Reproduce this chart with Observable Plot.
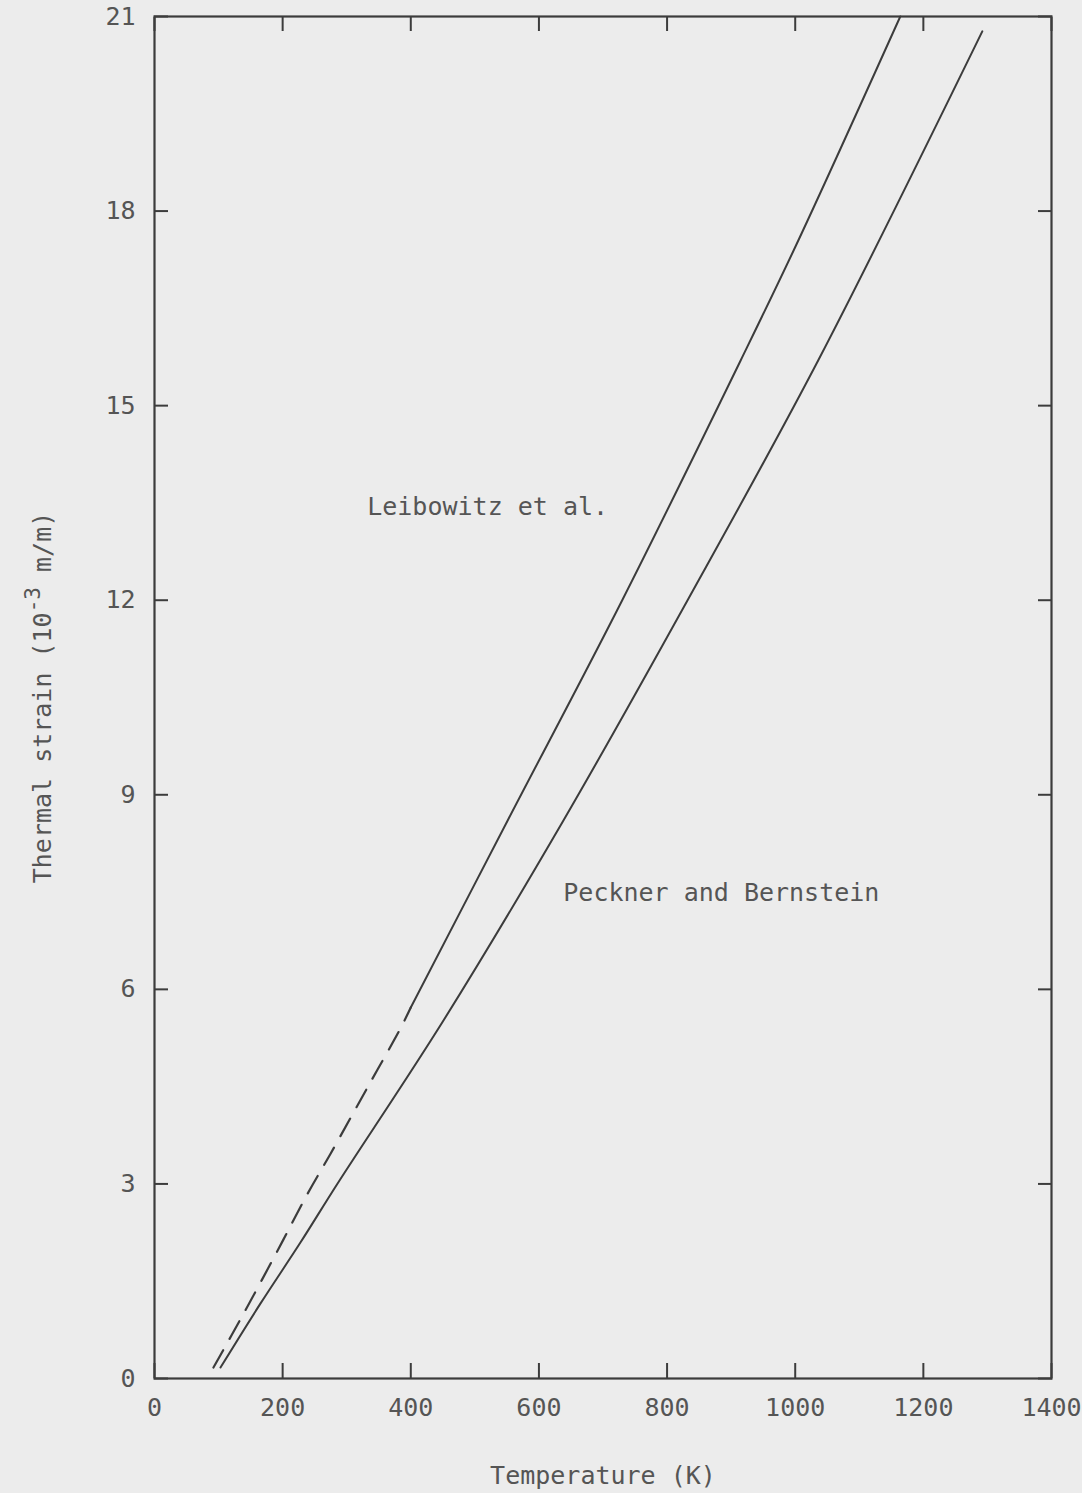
<!DOCTYPE html>
<html>
<head>
<meta charset="utf-8">
<script src="https://cdn.jsdelivr.net/npm/d3@7"></script>
<script src="https://cdn.jsdelivr.net/npm/@observablehq/plot@0.6"></script>
<style>
  html, body { margin: 0; padding: 0; background: #ececec; }
  #chart svg { display: block; background: transparent; }
</style>
</head>
<body>
<div id="chart"></div>
<script>
// Peckner and Bernstein (solid)
const pecknerT = [103, 165, 228, 286, 451, 638, 832, 1036, 1292];
const pecknerS = [0.17, 1.15, 2.10, 3.01, 5.52, 8.60, 12.0, 15.70, 20.77];
// Leibowitz et al. — extrapolated (dashed) part
const leibDashT = [92, 139, 192, 239, 275, 332, 384, 400];
const leibDashS = [0.17, 1.0, 1.97, 2.85, 3.47, 4.48, 5.40, 5.72];
// Leibowitz et al. — measured (solid) part
const leibT = [400, 551, 730, 915, 1005, 1164];
const leibS = [5.72, 8.60, 12.0, 15.70, 17.55, 21.0];

const xTicks = [0, 200, 400, 600, 800, 1000, 1200, 1400];
const yTicks = [0, 3, 6, 9, 12, 15, 18, 21];

const labels = [
  {T: 332, S: 13.43, text: "Leibowitz et al."},
  {T: 638, S: 7.49, text: "Peckner and Bernstein"}
];

const xTitle = "Temperature (K)";
const yTitle = "Thermal strain (10⁻³ m/m)";

const toRows = (T, S) => T.map((t, i) => ({T: t, S: S[i]}));

const ink = "#3c3c3c";
const textInk = "#555555";
const font = "'DejaVu Sans Mono', 'Liberation Mono', monospace";

const chart = Plot.plot({
  width: 1082,
  height: 1493,
  marginLeft: 154,
  marginRight: 31,
  marginTop: 16,
  marginBottom: 115,
  style: {fontFamily: font, fontSize: "24px", color: textInk, background: "transparent"},
  x: {domain: [0, 1400]},
  y: {domain: [0, 21]},
  marks: [
    Plot.axisX(xTicks, {anchor: "bottom", tickSize: -15, tickPadding: 35, tickFormat: "d", label: null, stroke: ink, strokeWidth: 2, fill: textInk, fontSize: 25}),
    Plot.axisX(xTicks, {anchor: "top", tickSize: -14, tickFormat: () => "", label: null, stroke: ink, strokeWidth: 2}),
    Plot.axisY(yTicks, {anchor: "left", tickSize: -14, tickPadding: 33, tickFormat: "d", label: null, stroke: ink, strokeWidth: 2, fill: textInk, fontSize: 25}),
    Plot.axisY(yTicks, {anchor: "right", tickSize: -14, tickFormat: () => "", label: null, stroke: ink, strokeWidth: 2}),
    Plot.frame({stroke: ink, strokeWidth: 2.2}),
    Plot.line(toRows(pecknerT, pecknerS), {x: "T", y: "S", stroke: ink, strokeWidth: 2, curve: "catmull-rom"}),
    Plot.line(toRows(leibDashT, leibDashS), {x: "T", y: "S", stroke: ink, strokeWidth: 2.2, strokeDasharray: "20,13", curve: "catmull-rom"}),
    Plot.line(toRows(leibT, leibS), {x: "T", y: "S", stroke: ink, strokeWidth: 2, curve: "catmull-rom"}),
    Plot.text(labels, {x: "T", y: "S", text: "text", textAnchor: "start", fontSize: 25, fill: textInk}),
    Plot.text([xTitle], {frameAnchor: "bottom", dy: 97, lineAnchor: "middle", textAnchor: "middle", text: d => d, fontSize: 25, fill: textInk}),
    Plot.text([yTitle], {frameAnchor: "left", dx: -112, rotate: -90, lineAnchor: "middle", textAnchor: "middle", text: d => d, fontSize: 25, fill: textInk})
  ]
});
document.getElementById("chart").append(chart);

// Render the exponent as a real superscript
d3.select(chart).selectAll("text").each(function () {
  const t = this;
  if (t.textContent === yTitle) {
    t.textContent = "";
    const s = d3.select(t);
    s.append("tspan").text("Thermal strain (10");
    s.append("tspan").attr("dy", -11).attr("font-size", 21).text("-3");
    s.append("tspan").attr("dy", 11).text(" m/m)");
  }
});
</script>
</body>
</html>
